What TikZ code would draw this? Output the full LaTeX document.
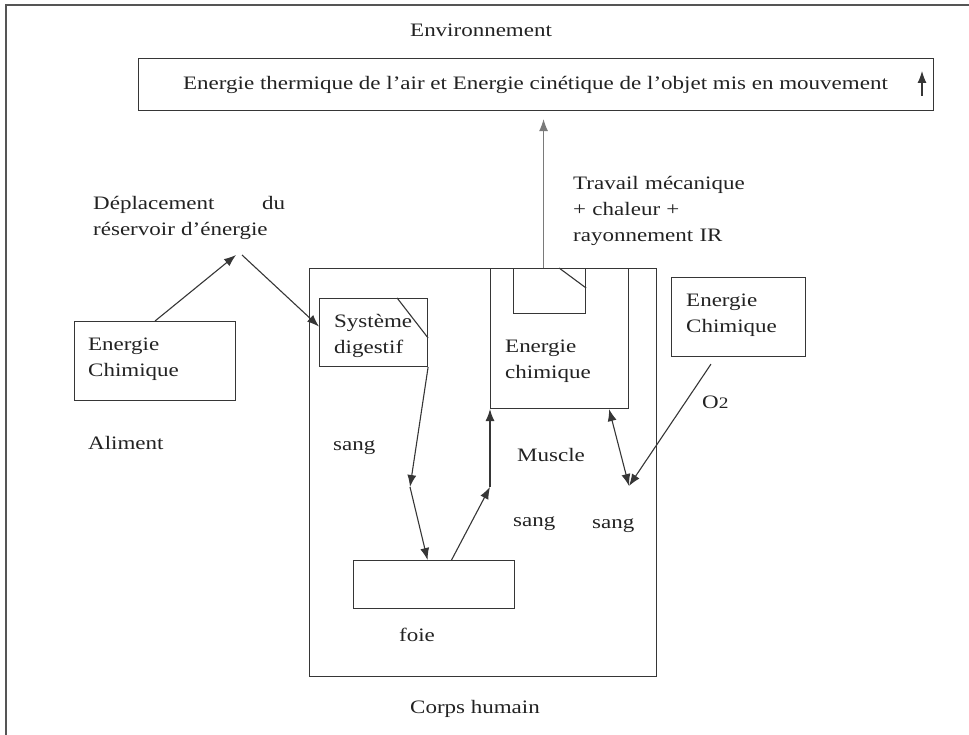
\documentclass[tikz,border=0pt]{standalone}
\usepackage{fontspec}
\setmainfont[FakeStretch=1.21]{Liberation Serif}
\usetikzlibrary{arrows.meta,calc}
\definecolor{inkgray}{HTML}{222222}
\definecolor{linegray}{HTML}{363636}
\definecolor{softgray}{HTML}{7A7A7A}
\definecolor{framegray}{HTML}{555555}
\begin{document}
\begin{tikzpicture}[x=1pt,y=-1pt,
  ln/.style={draw=linegray, line width=1.1pt},
  box/.style={ln, rectangle, inner sep=0pt, anchor=north west},
  txt/.style={text=inkgray, inner sep=0pt, anchor=base west, font=\fontsize{19}{26}\selectfont},
  multi/.style={txt, text width=320pt, align=left},
  tip/.style={-{Latex[length=12pt,width=9pt]}},
  arr/.style={ln, tip},
  dblarr/.style={ln, {Latex[length=12pt,width=9pt]}-{Latex[length=12pt,width=9pt]}},
]
\useasboundingbox (0,0) rectangle (969,735);

% page frame (top and left rules)
\draw[draw=framegray, line width=1.5pt] (969,5) -- (6,5) -- (6,735);

% environment
\node[txt] (envlbl) at (410,37) {Environnement};
\node[box, minimum width=795pt, minimum height=52pt] (env) at (138,58) {};
\node[txt] (envtxt) at (183,90) {Energie thermique de l’air et Energie cinétique de l’objet mis en mouvement};
\coordinate (ua) at (922,96);
\coordinate (ub) at (922,71);
\draw[arr] (ua) -- (ub);

% food
\node[box, minimum width=161pt, minimum height=79pt] (alim) at (74,321) {};
\node[multi] (alimtxt) at (88,350) {Energie\\Chimique};
\node[txt] (aliment) at (88,449) {Aliment};
\node[multi] (dep) at (93,210) {\hbox to 192pt{Déplacement\hfill du}\\réservoir d’énergie};

% human body
\node[box, minimum width=347pt, minimum height=408pt] (corps) at (309,268) {};
\node[txt] (corpslbl) at (410,713) {Corps humain};

\node[box, minimum width=108pt, minimum height=68pt] (dig) at (319,298) {};
\draw[ln] ([xshift=-31pt]dig.north east) -- ([yshift=-40pt]dig.north east);
\node[multi] (digtxt) at (334,327) {Système\\digestif};

\node[box, minimum width=138pt, minimum height=140pt] (muscle) at (490,268) {};
\node[box, minimum width=72pt, minimum height=45pt] (mbox) at (513,268) {};
\draw[ln] ([xshift=-27pt]mbox.north east) -- ([yshift=-20pt]mbox.north east);
\node[multi] (mustxt) at (505,352) {Energie\\chimique};
\node[txt] (muslbl) at (517,461) {Muscle};

\node[box, minimum width=161pt, minimum height=48pt] (foie) at (353,560) {};
\node[txt] (foielbl) at (399,641) {foie};

\node[txt] (sang1) at (333,450) {sang};
\node[txt] (sang2) at (513,526) {sang};
\node[txt] (sang3) at (592,528) {sang};

% oxygen source
\node[box, minimum width=134pt, minimum height=79pt] (ec2) at (671,277) {};
\node[multi] (ec2txt) at (686,306) {Energie\\Chimique};
\node[txt] (o2) at (702,408) {O{\fontsize{16}{16}\selectfont 2}};

\node[multi] (trav) at (573,190) {Travail mécanique\\+ chaleur +\\rayonnement IR};

% connectors
\coordinate (d1) at (236,255);
\coordinate (d2) at (242,255);
\draw[arr] (alim.north) -- (d1);
\draw[arr] (d2) -- ([yshift=6pt]dig.west);

\coordinate (b1) at (410,487);
\draw[arr] (dig.south east) -- (b1);
\draw[arr] (b1) -- ([xshift=-6.5pt]foie.north);

\coordinate (b2) at (490,487);
\draw[arr] ([xshift=17.5pt]foie.north) -- (b2);
\draw[arr] (b2) -- (muscle.south west);

\coordinate (b3) at (629,486);
\draw[dblarr] ([xshift=-20pt]muscle.south east) -- (b3);
\draw[arr] ([xshift=40pt,yshift=-7pt]ec2.south west) -- (b3);

\coordinate (mt) at ([xshift=-16pt]muscle.north);
\draw[ln, draw=softgray, tip] (mt) -- ([yshift=-8pt]env.south -| mt);
\end{tikzpicture}
\end{document}
